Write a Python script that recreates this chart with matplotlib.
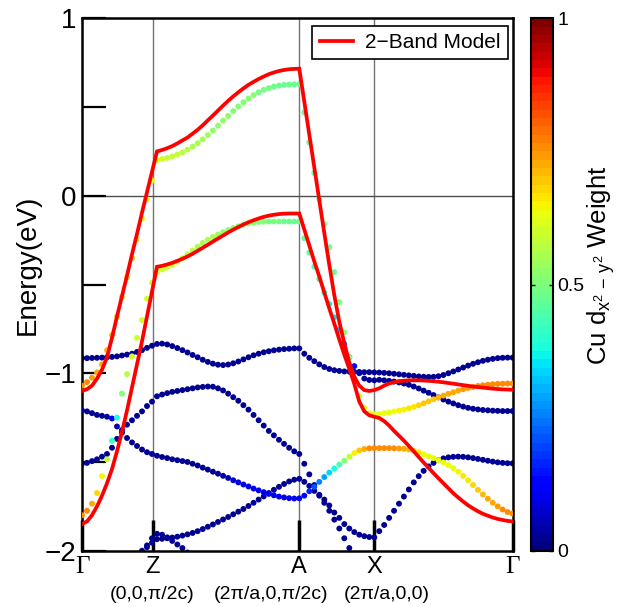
import numpy as np
import matplotlib
matplotlib.use("Agg")
import matplotlib.pyplot as plt

plt.rcParams['font.family'] = ['Liberation Sans', 'DejaVu Sans']
plt.rcParams['mathtext.fontset'] = 'custom'
plt.rcParams['mathtext.rm'] = 'Liberation Sans'
plt.rcParams['mathtext.it'] = 'Liberation Sans:italic'

# ---------------- k-path ----------------
K_NODES = [0.0, 75.0, 217.3, 292.3, 430.5]      # Γ, Z, A, X, Γ (band data)
K_TICKS = [0.0, 70.5, 217.3, 292.3, 430.5]      # label / guide-line positions
SEG_PTS = [15, 28, 15, 28]
TICK_TOP = ['Γ', 'Z', 'A', 'X', 'Γ']
TICK_BOTTOM = ['', '(0,0,π/2c)', '(2π/a,0,π/2c)', '(2π/a,0,0)', '']
TICK_BOTTOM_POS = [0.0, 70.5, 189.0, 305.0, 430.5]

# ---------------- 2-band model (red) ----------------
MODEL_UPPER = [
    -1.10, -1.09, -1.07, -1.03, -0.98, -0.91, -0.80, -0.68, -0.565, -0.45, -0.33, -0.215, -0.095, 0.02, 0.135, 0.25,
    0.258, 0.268, 0.28, 0.295, 0.312, 0.328, 0.35, 0.372, 0.397, 0.425, 0.452, 0.48, 0.508, 0.535, 0.56, 0.583,
    0.605, 0.625, 0.642, 0.658, 0.672, 0.685, 0.695, 0.703, 0.709, 0.713, 0.715, 0.716,
    0.53, 0.345, 0.16, -0.025, -0.21, -0.39, -0.56, -0.71, -0.83, -0.94, -1.02, -1.07, -1.095, -1.10, -1.095,
    -1.085, -1.07, -1.058, -1.05, -1.045, -1.042, -1.04, -1.04, -1.04, -1.041, -1.043, -1.045, -1.048, -1.051,
    -1.055, -1.059, -1.063, -1.067, -1.071, -1.075, -1.078, -1.081, -1.084, -1.087, -1.089, -1.091, -1.092, -1.093]
MODEL_LOWER = [
    -1.85, -1.835, -1.80, -1.75, -1.69, -1.62, -1.54, -1.44, -1.33, -1.21, -1.08, -0.95, -0.82, -0.68, -0.54, -0.40,
    -0.395, -0.387, -0.378, -0.367, -0.355, -0.342, -0.327, -0.31, -0.293, -0.276, -0.258, -0.241, -0.224, -0.207,
    -0.191, -0.176, -0.162, -0.149, -0.138, -0.128, -0.119, -0.112, -0.107, -0.103, -0.101, -0.10, -0.10, -0.10,
    -0.19, -0.28, -0.37, -0.455, -0.545, -0.635, -0.72, -0.81, -0.895, -0.975, -1.06, -1.16, -1.215, -1.237, -1.245,
    -1.252, -1.27, -1.295, -1.325, -1.352, -1.38, -1.41, -1.44, -1.472, -1.503, -1.533, -1.563, -1.592, -1.62,
    -1.648, -1.676, -1.70, -1.723, -1.744, -1.762, -1.778, -1.792, -1.803, -1.813, -1.821, -1.827, -1.832, -1.835]

# ---------------- DFT bands (dots) ----------------
D1_E = [
    -1.07, -1.05, -1.025, -0.995, -0.95, -0.87, -0.785, -0.68, -0.57, -0.46, -0.35, -0.245, -0.13, -0.02, 0.085, 0.20,
    0.208, 0.213, 0.222, 0.233, 0.245, 0.26, 0.277, 0.296, 0.318, 0.342, 0.368, 0.395, 0.423, 0.45, 0.477, 0.503,
    0.527, 0.548, 0.567, 0.583, 0.597, 0.607, 0.615, 0.621, 0.625, 0.627, 0.628, 0.628,
    0.47, 0.30, 0.13, -0.02, -0.16, -0.29, -0.43, -0.60, -0.77, -0.91, -1.03, -1.13, -1.195, -1.225, -1.232,
    -1.23, -1.225, -1.22, -1.215, -1.21, -1.205, -1.198, -1.19, -1.18, -1.17, -1.158, -1.147, -1.136, -1.126,
    -1.116, -1.107, -1.098, -1.09, -1.083, -1.077, -1.072, -1.068, -1.065, -1.062, -1.06, -1.059, -1.058, -1.058]
D1_W = [
    0.76, 0.75, 0.74, 0.73, 0.72, 0.71, 0.70, 0.69, 0.68, 0.67, 0.66, 0.65, 0.64, 0.63, 0.62, 0.60,
    0.60, 0.59, 0.59, 0.58, 0.57, 0.57, 0.56, 0.55, 0.55, 0.54, 0.53, 0.53, 0.52, 0.52, 0.51, 0.51,
    0.50, 0.50, 0.50, 0.49, 0.49, 0.49, 0.48, 0.48, 0.48, 0.48, 0.48, 0.48,
    0.48, 0.48, 0.48, 0.48, 0.48, 0.48, 0.48, 0.49, 0.50, 0.50, 0.53, 0.57, 0.60, 0.63, 0.64,
    0.64, 0.64, 0.64, 0.64, 0.65, 0.65, 0.66, 0.67, 0.68, 0.69, 0.70, 0.70, 0.71, 0.72,
    0.72, 0.73, 0.73, 0.74, 0.74, 0.74, 0.75, 0.75, 0.75, 0.75, 0.76, 0.76, 0.76, 0.76]

D2_E = [
    -1.80, -1.775, -1.735, -1.675, -1.58, -1.485, -1.38, -1.25, -1.115, -1.005, -0.905, -0.80, -0.70, -0.58, -0.49, -0.43,
    -0.415, -0.405, -0.39, -0.372, -0.352, -0.33, -0.308, -0.287, -0.266, -0.248, -0.232, -0.218, -0.205, -0.193,
    -0.182, -0.172, -0.163, -0.156, -0.151, -0.148, -0.146, -0.145, -0.145, -0.145, -0.145, -0.145, -0.145, -0.145,
    -0.24, -0.32, -0.40, -0.47, -0.545, -0.61, -0.685, -0.755, -0.835, -0.91, -0.96, -1.00, -1.03, -1.038, -1.04,
    -1.037, -1.04, -1.043, -1.047, -1.052, -1.058, -1.065, -1.075, -1.086, -1.098, -1.11, -1.123, -1.136, -1.148,
    -1.16, -1.17, -1.18, -1.188, -1.195, -1.2, -1.204, -1.207, -1.209, -1.211, -1.212, -1.213, -1.213, -1.213]
D2_W = [
    0.76, 0.75, 0.72, 0.68, 0.65, 0.58, 0.42, 0.38, 0.50, 0.57, 0.60, 0.60, 0.60, 0.60, 0.60, 0.60,
    0.60, 0.60, 0.59, 0.59, 0.58, 0.58, 0.57, 0.56, 0.56, 0.55, 0.55, 0.54, 0.53, 0.53, 0.52, 0.52,
    0.51, 0.51, 0.50, 0.50, 0.50, 0.49, 0.49, 0.49, 0.48, 0.48, 0.48, 0.48,
    0.47, 0.46, 0.45, 0.43, 0.40, 0.37, 0.35, 0.32, 0.25, 0.18, 0.12, 0.06, 0.03, 0.02, 0.02,
    0.02, 0.02, 0.02, 0.02, 0.02, 0.02, 0.02, 0.02, 0.02, 0.02, 0.02, 0.02, 0.02, 0.02,
    0.02, 0.02, 0.02, 0.02, 0.02, 0.02, 0.02, 0.02, 0.02, 0.02, 0.02, 0.02, 0.02, 0.02]

BA_E = [
    -1.21, -1.215, -1.225, -1.235, -1.24, -1.245, -1.255, -1.30, -1.335, -1.365, -1.39, -1.41, -1.43, -1.445, -1.455, -1.465,
    -1.472, -1.478, -1.485, -1.49, -1.495, -1.50, -1.51, -1.52, -1.532, -1.543, -1.555, -1.566, -1.578, -1.59,
    -1.603, -1.615, -1.627, -1.638, -1.65, -1.66, -1.67, -1.68, -1.688, -1.695, -1.70, -1.704, -1.706, -1.705,
    -1.69, -1.665, -1.64, -1.612, -1.585, -1.56, -1.537, -1.515, -1.493, -1.47, -1.45, -1.435, -1.427, -1.423, -1.422,
    -1.422, -1.422, -1.422, -1.423, -1.424, -1.426, -1.43, -1.437, -1.446, -1.457, -1.468, -1.478, -1.49, -1.503,
    -1.518, -1.535, -1.555, -1.578, -1.603, -1.63, -1.657, -1.683, -1.707, -1.73, -1.75, -1.768, -1.782, -1.79]
BA_W = [
    0.02, 0.02, 0.02, 0.02, 0.02, 0.04, 0.10, 0.06, 0.02, 0.02, 0.02, 0.02, 0.02, 0.02, 0.02, 0.02,
    0.02, 0.02, 0.02, 0.02, 0.02, 0.02, 0.02, 0.02, 0.02, 0.02, 0.02, 0.02, 0.04, 0.06, 0.08, 0.09,
    0.10, 0.10, 0.10, 0.10, 0.10, 0.10, 0.10, 0.10, 0.10, 0.10, 0.11, 0.11,
    0.13, 0.17, 0.21, 0.25, 0.29, 0.33, 0.38, 0.44, 0.50, 0.58, 0.65, 0.70, 0.73, 0.75, 0.76,
    0.76, 0.76, 0.75, 0.75, 0.74, 0.73, 0.71, 0.68, 0.66, 0.64, 0.63, 0.63, 0.63, 0.63,
    0.63, 0.64, 0.65, 0.66, 0.67, 0.68, 0.70, 0.71, 0.72, 0.73, 0.74, 0.75, 0.75, 0.76]

# navy (no Cu d weight) bands; partial bands start at a k-index
NTOP_E = [
    -0.915, -0.915, -0.914, -0.913, -0.912, -0.91, -0.908, -0.905, -0.90, -0.895, -0.89, -0.88, -0.87, -0.857, -0.845, -0.835,
    -0.833, -0.838, -0.847, -0.858, -0.87, -0.883, -0.897, -0.91, -0.924, -0.936, -0.946, -0.952, -0.954, -0.951,
    -0.944, -0.934, -0.922, -0.91, -0.899, -0.89, -0.882, -0.876, -0.871, -0.867, -0.864, -0.862, -0.86, -0.86,
    -0.89, -0.913, -0.932, -0.95, -0.965, -0.976, -0.983, -0.987, -0.99, -0.991, -0.992, -0.993, -0.994, -0.994, -0.995,
    -0.996, -0.998, -1.0, -1.003, -1.006, -1.009, -1.012, -1.015, -1.018, -1.02, -1.021, -1.02, -1.017, -1.01,
    -1.0, -0.99, -0.979, -0.968, -0.957, -0.947, -0.938, -0.93, -0.924, -0.919, -0.915, -0.913, -0.912, -0.912]
BB_START = 0
BB_E = [
    -1.51, -1.505, -1.495, -1.485, -1.47, -1.455, -1.42, -1.37, -1.32, -1.29, -1.265, -1.24, -1.215, -1.185, -1.16, -1.13,
    -1.12, -1.112, -1.105, -1.10, -1.095, -1.09, -1.085, -1.08, -1.077, -1.075, -1.076, -1.085, -1.097, -1.115,
    -1.135, -1.155, -1.18, -1.205, -1.235, -1.265, -1.295, -1.325, -1.35, -1.375, -1.398, -1.42, -1.44, -1.455,
    -1.51, -1.57, -1.63, -1.685, -1.73, -1.775, -1.825, -1.875, -1.93, -1.985, -2.04]
BC_START = 12
BC_E = [
    -2.0, -1.98, -1.955, -1.935,
    -1.933, -1.93, -1.926, -1.921, -1.915, -1.908, -1.90, -1.89, -1.878, -1.865, -1.852, -1.838, -1.824, -1.81,
    -1.795, -1.78, -1.765, -1.748, -1.73, -1.712, -1.694, -1.675, -1.657, -1.64, -1.624, -1.61, -1.60, -1.595,
    -1.612, -1.635, -1.663, -1.69, -1.712, -1.745, -1.785, -1.815, -1.85, -1.875, -1.895, -1.91, -1.918, -1.923, -1.925,
    -1.89, -1.855, -1.815, -1.775, -1.735, -1.695, -1.655, -1.615, -1.58, -1.55, -1.525, -1.505, -1.49, -1.48,
    -1.474, -1.471, -1.47, -1.471, -1.474, -1.478, -1.483, -1.488, -1.493, -1.498, -1.502, -1.505, -1.507, -1.508]
BD_START = 13
BD_E = [-1.97, -1.93, -1.905, -1.91, -1.925, -1.945, -1.965, -1.985, -2.01]
NAVY_W = 0.02

COLORBAR_TICKS = [0, 0.5, 1]
COLORBAR_LABELS = ['0', '0.5', '1']
Y_MAJOR = [-2, -1, 0, 1]
Y_MAJOR_LABELS = ['\u22122', '\u22121', '0', '1']
Y_MINOR = [-1.5, -0.5, 0.5]

# ---------------- build k grid ----------------
k = [K_NODES[0]]
for a, b, n in zip(K_NODES[:-1], K_NODES[1:], SEG_PTS):
    k.extend(np.linspace(a, b, n + 1)[1:])
k = np.array(k)

W, H = 622, 607
fig = plt.figure(figsize=(W / 100, H / 100), dpi=100)
ax_l, ax_r, ax_t, ax_b = 82, 512.5, 18.3, 550.7
ax = fig.add_axes([ax_l / W, 1 - ax_b / H, (ax_r - ax_l) / W, (ax_b - ax_t) / H])
ax.set_xlim(K_NODES[0], K_NODES[-1])
ax.set_ylim(-2, 1)

for kt in K_TICKS[1:-1]:
    ax.axvline(kt, color='0.45', lw=1.0, zorder=1)
ax.axhline(0, color='0.3', lw=1.0, zorder=1)

cmap = plt.get_cmap('jet', 64)
ms = 18
navy = [(np.array(NTOP_E), 0), (np.array(BB_E), BB_START), (np.array(BC_E), BC_START), (np.array(BD_E), BD_START)]
for e, s0 in navy:
    kk = k[s0:s0 + len(e)]
    ax.scatter(kk, e, c=np.full(len(e), NAVY_W), cmap=cmap, vmin=0, vmax=1, s=ms, linewidths=0, zorder=2)
sc = None
for e, w in [(BA_E, BA_W), (D2_E, D2_W), (D1_E, D1_W)]:
    sc = ax.scatter(k, e, c=w, cmap=cmap, vmin=0, vmax=1, s=ms, linewidths=0, zorder=3)

ax.plot(k, MODEL_UPPER, color='#ff0000', lw=2.7, zorder=5, label='2\u2212Band Model', solid_joinstyle='miter')
ax.plot(k, MODEL_LOWER, color='#ff0000', lw=2.7, zorder=5, solid_joinstyle='miter')

leg = ax.legend(loc='upper right', bbox_to_anchor=(0.99, 0.986), fontsize=15, frameon=True, fancybox=False,
                edgecolor='black', handlelength=1.6, handletextpad=0.6, borderpad=0.35, borderaxespad=0)
leg.get_frame().set_linewidth(1.2)
leg.get_frame().set_alpha(1)

ax.set_yticks(Y_MAJOR)
ax.set_yticklabels(Y_MAJOR_LABELS, fontsize=20)
ax.set_yticks(Y_MINOR, minor=True)
ax.tick_params(axis='y', which='both', direction='in', length=17, width=1.6, left=True, right=False, pad=4)
ax.set_xticks(K_TICKS)
ax.set_xticklabels([])
ax.tick_params(axis='x', which='both', direction='in', length=22, width=2.5, bottom=True, top=False)
for sp in ax.spines.values():
    sp.set_linewidth(1.8)

tr = ax.get_xaxis_transform()
for kt, t1 in zip(K_TICKS, TICK_TOP):
    if t1 == 'Γ':
        ax.text(kt, -0.031, t1, transform=tr, ha='center', va='center', fontsize=18,
                family=['Liberation Serif', 'DejaVu Serif'])
    else:
        ax.text(kt, -0.031, t1, transform=tr, ha='center', va='center', fontsize=17)
for kp, t2 in zip(TICK_BOTTOM_POS, TICK_BOTTOM):
    if t2:
        ax.text(kp, -0.083, t2, transform=tr, ha='center', va='center', fontsize=14)

fig.text(28 / W, 1 - 265 / H, 'Energy(eV)', rotation=90, ha='center', va='center', fontsize=20)

cax = fig.add_axes([531 / W, 1 - ax_b / H, 22 / W, (ax_b - ax_t) / H])
cb = fig.colorbar(sc, cax=cax, ticks=COLORBAR_TICKS)
cb.ax.set_yticklabels(COLORBAR_LABELS, fontsize=14)
cb.ax.tick_params(length=3, width=1, direction='in', left=True, right=True, pad=3)
cb.outline.set_linewidth(1.5)
fig.text(601 / W, 1 - 265 / H, r'Cu $\mathregular{d_{x^{2}\,-\,y^{2}}}$ Weight', rotation=90,
         ha='center', va='center', fontsize=18.5)

fig.savefig('out.png', dpi=100)
